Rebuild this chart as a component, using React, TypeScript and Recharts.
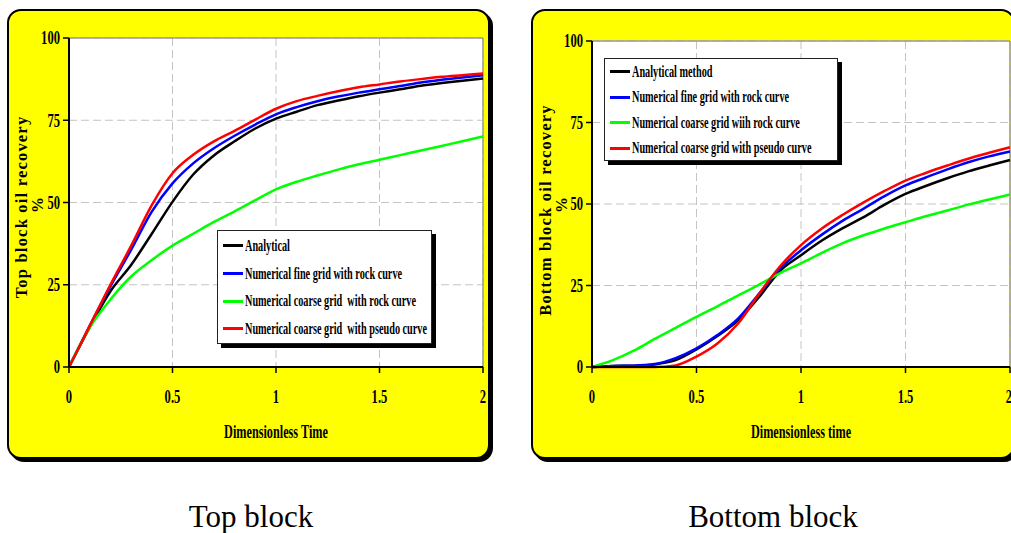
import React from "react";
import {
  LineChart,
  Line,
  XAxis,
  YAxis,
  CartesianGrid,
  Legend,
  ReferenceLine,
} from "recharts";

// dimensionless time samples shared by both blocks
const times = [0, 0.1, 0.2, 0.3, 0.4, 0.5, 0.6, 0.7, 0.8, 0.9, 1.0, 1.1, 1.2, 1.3, 1.4, 1.5, 1.6, 1.7, 1.8, 1.9, 2.0];

// top block oil recovery, %
const topAnalytical = [0, 12.0, 23.0, 31.0, 40.5, 50.2, 58.5, 64.3, 68.6, 72.5, 75.5, 77.6, 79.6, 81.0, 82.3, 83.4, 84.4, 85.5, 86.3, 87.0, 87.7];
const topFineRock = [0, 12.5, 24.5, 35.6, 47.2, 55.8, 61.9, 66.5, 70.3, 73.7, 76.8, 79.0, 80.8, 82.2, 83.4, 84.4, 85.4, 86.5, 87.3, 88.0, 88.7];
const topCoarseRock = [0, 12.0, 20.5, 27.5, 32.5, 36.9, 40.5, 44.1, 47.3, 50.7, 54.0, 56.3, 58.2, 60.0, 61.6, 63.0, 64.4, 65.8, 67.2, 68.6, 70.1];
const topCoarsePseudo = [0, 12.5, 25.0, 36.8, 49.2, 58.9, 64.5, 68.6, 71.8, 75.2, 78.5, 80.8, 82.4, 83.8, 85.0, 85.9, 86.8, 87.5, 88.2, 88.7, 89.2];

// bottom block oil recovery, %
const bottomAnalytical = [0, 0.3, 0.4, 0.8, 2.1, 5.4, 9.5, 14.4, 21.5, 29.5, 34.3, 38.8, 42.6, 46.0, 49.8, 53.1, 55.6, 57.9, 60.0, 61.8, 63.5];
const bottomFineRock = [0, 0.3, 0.4, 0.9, 2.7, 5.7, 9.8, 14.9, 22.5, 30.2, 35.8, 40.6, 44.9, 48.6, 52.4, 55.7, 58.2, 60.6, 62.8, 64.6, 66.1];
const bottomCoarseRock = [0, 2.1, 5.0, 8.6, 12.0, 15.4, 18.6, 22.0, 25.3, 28.8, 31.8, 35.0, 38.0, 40.4, 42.5, 44.4, 46.3, 48.0, 49.8, 51.4, 52.9];
const bottomCoarsePseudo = [0, 0, 0, 0, 0.5, 3.2, 7.2, 13.4, 22.5, 30.9, 37.4, 42.5, 46.7, 50.5, 54.0, 57.2, 59.6, 61.8, 63.9, 65.7, 67.4];

const xTicks = [0, 0.5, 1, 1.5, 2];
const yTicks = [0, 25, 50, 75, 100];

const topNames = [
  "Analytical",
  "Numerical fine grid with rock curve",
  "Numerical coarse grid  with rock curve",
  "Numerical coarse grid  with pseudo curve",
];
const bottomNames = [
  "Analytical method",
  "Numerical fine grid with rock curve",
  "Numerical coarse grid wiih rock curve",
  "Numerical coarse grid with pseudo curve",
];

const seriesKeys = ["analytical", "fineRock", "coarseRock", "coarsePseudo"];
const seriesColors = ["#000000", "#0000ff", "#00ff00", "#ff0000"];

const SERIF = '"Liberation Serif", "Times New Roman", serif';

function buildRows(a: number[], b: number[], c: number[], d: number[]) {
  return times.map((t, i) => ({
    t,
    analytical: a[i],
    fineRock: b[i],
    coarseRock: c[i],
    coarsePseudo: d[i],
  }));
}

const topRows = buildRows(topAnalytical, topFineRock, topCoarseRock, topCoarsePseudo);
const bottomRows = buildRows(bottomAnalytical, bottomFineRock, bottomCoarseRock, bottomCoarsePseudo);

// narrow bold serif text, squeezed horizontally around its anchor
function squeeze(x: number, k: number) {
  return `translate(${x} 0) scale(${k} 1) translate(${-x} 0)`;
}

function XTick(props: any) {
  const { x, y, payload } = props;
  return (
    <text
      x={x}
      y={y + 21}
      textAnchor="middle"
      dominantBaseline="central"
      fontFamily={SERIF}
      fontWeight="bold"
      fontSize={18}
      fill="#000"
      transform={squeeze(x, 0.7)}
    >
      {payload.value}
    </text>
  );
}

function YTick(props: any) {
  const { x, y, payload } = props;
  return (
    <text
      x={x}
      y={y}
      textAnchor="end"
      dominantBaseline="central"
      fontFamily={SERIF}
      fontWeight="bold"
      fontSize={18}
      fill="#000"
      transform={squeeze(x, 0.7)}
    >
      {payload.value}
    </text>
  );
}

type Box = { left: number; top: number; width: number; height: number; rowH: number; padTop: number };

function BoxLegend({ payload, names, box }: { payload?: any[]; names: string[]; box: Box }) {
  const items = names.map((n, i) => {
    const hit = (payload || []).find((p: any) => p.value === n);
    return { value: n, color: hit ? hit.color : seriesColors[i] };
  });
  return (
    <div
      style={{
        width: box.width,
        height: box.height,
        boxSizing: "border-box",
        background: "#fff",
        border: "1px solid #222",
        boxShadow: "4px 4px 0 #000",
        paddingTop: box.padTop,
      }}
    >
      {items.map((it) => (
        <div key={it.value} style={{ height: box.rowH, display: "flex", alignItems: "center" }}>
          <span style={{ flex: "none", width: 20, height: 3, marginLeft: 5, background: it.color }} />
          <span
            style={{
              flex: "none",
              display: "inline-block",
              marginLeft: 2,
              fontFamily: SERIF,
              fontWeight: "bold",
              fontSize: 16,
              lineHeight: "16px",
              color: "#000",
              whiteSpace: "pre",
              transform: "scaleX(0.64)",
              transformOrigin: "left center",
            }}
          >
            {it.value}
          </span>
        </div>
      ))}
    </div>
  );
}

type PanelProps = {
  left: number;
  width: number;
  rows: any[];
  names: string[];
  xTitle: string;
  yTitle: string;
  plotLeft: number;
  plotRight: number;
  plotTop: number;
  yTitleAt: [number, number];
  legendBox: Box;
};

const CHART_H = 446;
const PLOT_BOTTOM = 356;

function Panel(p: PanelProps) {
  const chartW = p.width - 4;
  const xMid = (p.plotLeft + p.plotRight) / 2;

  const xTitle = () => (
    <text
      x={xMid}
      y={421}
      textAnchor="middle"
      dominantBaseline="central"
      fontFamily={SERIF}
      fontWeight="bold"
      fontSize={18}
      fill="#000"
      transform={squeeze(xMid, 0.68)}
    >
      {p.xTitle}
    </text>
  );

  const yTitle = () => (
    <g>
      <text
        transform={`translate(${p.yTitleAt[0]} ${p.yTitleAt[1]}) rotate(-90)`}
        textAnchor="middle"
        dominantBaseline="central"
        fontFamily={SERIF}
        fontWeight="bold"
        fontSize={16.5}
        letterSpacing={1.2}
        fill="#000"
      >
        {p.yTitle}
      </text>
      <text
        transform={`translate(28 194) rotate(-90)`}
        textAnchor="middle"
        dominantBaseline="central"
        fontFamily={SERIF}
        fontWeight="bold"
        fontSize={16}
        fill="#000"
      >
        %
      </text>
    </g>
  );

  return (
    <div
      style={{
        position: "absolute",
        left: p.left,
        top: 9,
        width: p.width,
        height: 450,
        boxSizing: "border-box",
        border: "2px solid #000",
        borderRadius: 14,
        background: "#ffff00",
        boxShadow: "3px 3px 0 #000",
      }}
    >
      <LineChart
        width={chartW}
        height={CHART_H}
        data={p.rows}
        margin={{ top: p.plotTop, right: chartW - p.plotRight, left: 0, bottom: CHART_H - PLOT_BOTTOM - 90 }}
      >
        <CartesianGrid stroke="#c4c4c4" strokeDasharray="8 4" fill="#ffffff" />
        <XAxis
          type="number"
          dataKey="t"
          domain={[0, 2]}
          ticks={xTicks}
          height={90}
          tickSize={6}
          tickMargin={3}
          tick={(props: any) => <XTick {...props} />}
          axisLine={{ stroke: "#000", strokeWidth: 2 }}
          tickLine={{ stroke: "#000", strokeWidth: 1.5 }}
          label={xTitle}
        />
        <YAxis
          type="number"
          domain={[0, 100]}
          ticks={yTicks}
          width={p.plotLeft}
          tickSize={6}
          tickMargin={3}
          tick={(props: any) => <YTick {...props} />}
          axisLine={{ stroke: "#000", strokeWidth: 2 }}
          tickLine={{ stroke: "#000", strokeWidth: 1.5 }}
          label={yTitle}
        />
        <ReferenceLine y={100} stroke="#9a9a9a" strokeWidth={1.5} />
        <ReferenceLine x={2} stroke="#9a9a9a" strokeWidth={1.5} />
        <Legend
          layout="horizontal"
          verticalAlign="middle"
          align="center"
          wrapperStyle={{ left: p.legendBox.left, top: p.legendBox.top, width: p.legendBox.width, height: p.legendBox.height }}
          content={(props: any) => <BoxLegend payload={props.payload} names={p.names} box={p.legendBox} />}
        />
        {seriesKeys.map((k, i) => (
          <Line
            key={k}
            type="monotone"
            dataKey={k}
            name={p.names[i]}
            stroke={seriesColors[i]}
            strokeWidth={2.5}
            dot={false}
            isAnimationActive={false}
          />
        ))}
      </LineChart>
    </div>
  );
}

const captionStyle: React.CSSProperties = {
  position: "absolute",
  top: 501,
  width: 300,
  textAlign: "center",
  fontFamily: SERIF,
  fontSize: 31,
  lineHeight: "31px",
  color: "#000",
};

export default function App() {
  return (
    <div
      style={{
        position: "absolute",
        left: 0,
        top: 0,
        width: 1011,
        height: 533,
        overflow: "hidden",
        background: "#fff",
      }}
    >
      <Panel
        left={7}
        width={483}
        rows={topRows}
        names={topNames}
        xTitle="Dimensionless Time"
        yTitle="Top block oil recovery"
        plotLeft={60}
        plotRight={474}
        plotTop={27}
        yTitleAt={[12.5, 196]}
        legendBox={{ left: 208, top: 219, width: 215, height: 114, rowH: 27.7, padTop: 1 }}
      />
      <Panel
        left={531}
        width={484}
        rows={bottomRows}
        names={bottomNames}
        xTitle="Dimensionless time"
        yTitle="Bottom block oil recovery"
        plotLeft={59}
        plotRight={477}
        plotTop={30}
        yTitleAt={[12, 199]}
        legendBox={{ left: 71, top: 47, width: 234, height: 103, rowH: 25.5, padTop: 0 }}
      />
      <div style={{ ...captionStyle, left: 251 - 150 }}>Top block</div>
      <div style={{ ...captionStyle, left: 773 - 150 }}>Bottom block</div>
    </div>
  );
}
